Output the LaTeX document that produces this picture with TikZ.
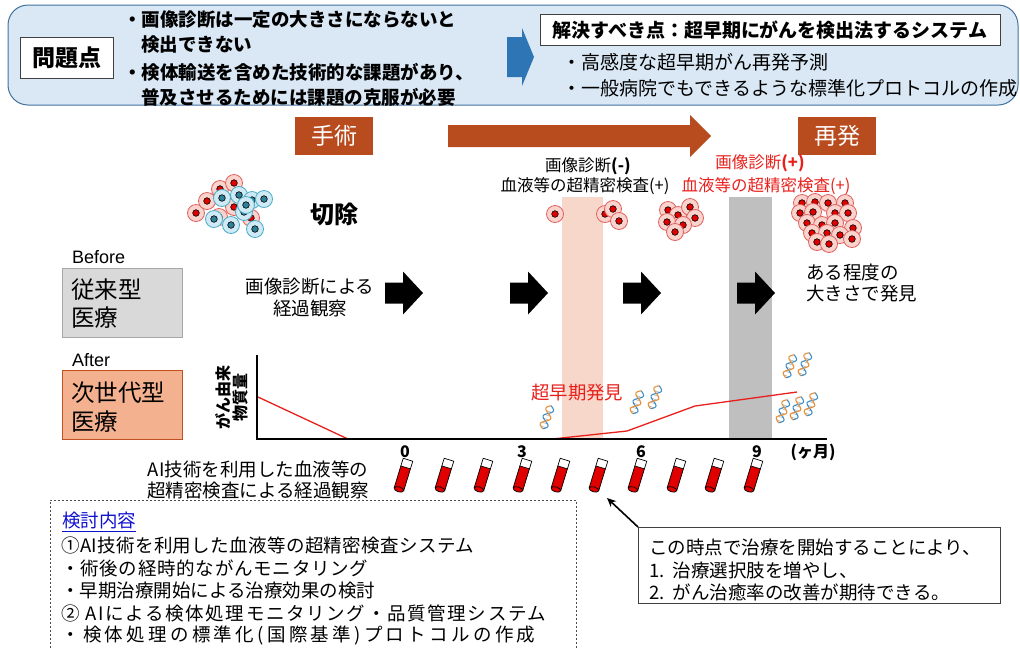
\documentclass[tikz,border=0pt]{standalone}
\usepackage{fontspec}
\setmainfont{Noto Sans CJK JP}
\newfontfamily\latinsans{Liberation Sans}
\usetikzlibrary{arrows.meta}
\newcommand\fs[1]{\fontsize{#1}{#1}\selectfont}

\definecolor{topfill}{HTML}{DAE8F5}
\definecolor{topline}{HTML}{41719C}
\definecolor{arrowblue}{HTML}{2E75B6}
\definecolor{rust}{HTML}{B84C1F}
\definecolor{bandpink}{HTML}{F8D7CB}
\definecolor{bandgray}{HTML}{BFBFBF}
\definecolor{boxgray}{HTML}{D9D9D9}
\definecolor{boxgrayline}{HTML}{A6A6A6}
\definecolor{boxsalmon}{HTML}{F4B18F}
\definecolor{boxsalmonline}{HTML}{C0501F}
\definecolor{alertred}{HTML}{E8201C}
\definecolor{cellfill}{HTML}{FAD3CC}
\definecolor{cellline}{HTML}{E06060}
\definecolor{nucred}{HTML}{E00000}
\definecolor{bcellfill}{HTML}{CFEAF4}
\definecolor{bcellline}{HTML}{4BACC6}
\definecolor{bnuc}{HTML}{2E7F98}
\definecolor{linkblue}{HTML}{1010D0}
\definecolor{dnablue}{HTML}{3E8FC8}
\definecolor{dnaorange}{HTML}{E8903A}

\tikzset{
  txt/.style={inner sep=0pt, font=\fs{18.5}},
  txtb/.style={inner sep=0pt, font=\fs{18.5}\bfseries},
  tag/.style={fill=rust, text=white, inner sep=0pt, minimum width=78pt, minimum height=38pt, font=\fs{23}},
  whitebox/.style={draw=black!75, fill=white, line width=0.8pt, inner sep=0pt},
  redcell/.pic={
    \draw[fill=cellfill, draw=cellline, line width=0.8pt] (0,0) circle (8.5);
    \draw[fill=nucred, draw=black, line width=0.6pt] (0,0) circle (3.3);
  },
  bluecell/.pic={
    \draw[fill=bcellfill, draw=bcellline, line width=0.8pt] (0,0) circle (8.5);
    \draw[fill=bnuc, draw=black, line width=0.6pt] (0,0) circle (3.3);
  },
  blkarrow/.pic={
    \fill[black] (0,-10.5) -- (18,-10.5) -- (18,-21.5) -- (38,0) -- (18,21.5) -- (18,10.5) -- (0,10.5) -- cycle;
  },
  tube/.pic={
    \fill[nucred] (-5,-9) rectangle (5,14);
    \draw[fill=nucred, line width=0.7pt] (0,14) ellipse (5 and 2.5);
    \draw[line width=0.7pt] (-5,-9) -- (-5,14) (5,-9) -- (5,14);
    \draw[fill=white, line width=0.7pt] (-5,-17) rectangle (5,-9);
  },
  dna/.pic={
    \draw[gray!60, line width=0.6pt] \foreach \k in {1,...,5} {({-3.6*sin(\k*90+45)},{-12+(\k*90+45)/22}) -- ({3.6*sin(\k*90+45)},{-12+(\k*90+45)/22})};
    \draw[dnablue, line width=1.1pt] plot[domain=0:540, samples=40, smooth] ({4*sin(\x)}, {-12+\x/22});
    \draw[dnaorange, line width=1.1pt] plot[domain=0:540, samples=40, smooth] ({-4*sin(\x)}, {-12+\x/22});
  },
}

\begin{document}
\begin{tikzpicture}[x=1pt, y=-1pt]
\useasboundingbox (0,0) rectangle (1020,649);

% ---------- problem / solution banner ----------
\draw[rounded corners=20pt, fill=topfill, draw=topline, line width=1pt] (8,5) rectangle (1018,105);
\node[whitebox, minimum width=93pt, minimum height=41pt, font=\fs{23}\bfseries] (prob) at (66.5,57.5) {問題点};
\node[txtb, anchor=west] (p1) at (123,20) {・画像診断は一定の大きさにならないと};
\node[txtb, anchor=west] (p2) at (141,45) {検出できない};
\node[txtb, anchor=west] (p3) at (123,72) {・検体輸送を含めた技術的な課題があり、};
\node[txtb, anchor=west] (p4) at (141,97) {普及させるためには課題の克服が必要};
\fill[arrowblue] (507,37) -- (522,37) -- (522,28) -- (534,57) -- (522,86) -- (522,77) -- (507,77) -- cycle;
\node[whitebox, minimum width=460pt, minimum height=31pt, font=\fs{19}\bfseries] (goal) at (770,30) {解決すべき点：超早期にがんを検出法するシステム};
\node[inner sep=0pt, font=\fs{19}, anchor=west] (s1) at (562,62) {・高感度な超早期がん再発予測};
\node[inner sep=0pt, font=\fs{19}, anchor=west] (s2) at (562,88) {・一般病院でもできるような標準化プロトコルの作成};

% ---------- timeline header ----------
\node[tag] (surgery) at (334,136) {手術};
\node[tag] (relapse) at (837,136) {再発};
\fill[rust] (448,125) -- (690,125) -- (690,115) -- (711,136) -- (690,157) -- (690,147) -- (448,147) -- cycle;

% ---------- detection bands ----------
\fill[bandpink] (562,197) rectangle (603,440);
\fill[bandgray] (729,197) rectangle (772,438);

\node[inner sep=0pt, font=\fs{16.5}] (imgneg) at (588,166) {画像診断\textbf{(-)}};
\node[inner sep=0pt, font=\fs{16.5}] (bloodpos) at (585,186) {血液等の超精密検査(+)};
\node[inner sep=0pt, font=\fs{16.5}, text=alertred] (imgpos) at (760,163) {画像診断\textbf{(+)}};
\node[inner sep=0pt, font=\fs{16.5}, text=alertred] (bloodpos2) at (766,186) {血液等の超精密検査(+)};

% ---------- tumour cells ----------
\foreach \p in {(196,213),(207,201),(220,189),(234,183),(234,207),(251,218),(219,217)}
  \pic at \p {redcell};
\foreach \p in {(222,198),(239,195),(252,200),(264,199),(214,219),(231,225),(244,212),(255,229),(246,205)}
  \pic at \p {bluecell};
\node[inner sep=0pt, font=\fs{24}\bfseries] (resect) at (334,214) {切除};

\pic at (555,214) {redcell};
\foreach \p in {(605,214),(613,209),(619,221)} \pic at \p {redcell};
\foreach \p in {(668,210),(678,215),(690,207),(667,222),(695,218),(683,225),(675,232)} \pic at \p {redcell};
\foreach \p in {(802,203),(815,202),(828,203),(845,203),(800,213),(813,212),(835,213),(848,213),
                (807,223),(822,225),(835,223),(853,228),(812,233),(827,233),(840,235),(852,239),
                (817,242),(829,244)}
  \pic at \p {redcell};

% ---------- conventional care ----------
\node[inner sep=0pt, anchor=west, font=\latinsans\fs{18}] (before) at (72,257) {Before};
\draw[fill=boxgray, draw=boxgrayline, line width=1pt] (62,268) rectangle (182,337);
\node[inner sep=0pt, anchor=west, font=\fs{23.5}] (conv1) at (71,290) {従来型};
\node[inner sep=0pt, anchor=west, font=\fs{23.5}] (conv2) at (71,318) {医療};

\node[txt] (imgobs1) at (310,287) {画像診断による};
\node[txt] (imgobs2) at (310,308) {経過観察};
\foreach \xx in {385,510,623,737} \pic at (\xx,293) {blkarrow};
\node[txt, anchor=west] (found1) at (806,272) {ある程度の};
\node[txt, anchor=west] (found2) at (806,294) {大きさで発見};

% ---------- next-generation care ----------
\node[inner sep=0pt, anchor=west, font=\latinsans\fs{18}] (after) at (72,360) {After};
\draw[fill=boxsalmon, draw=boxsalmonline, line width=1pt] (62,370) rectangle (182,439);
\node[inner sep=0pt, anchor=west, font=\fs{23.5}] (next1) at (71,393) {次世代型};
\node[inner sep=0pt, anchor=west, font=\fs{23.5}] (next2) at (71,422) {医療};

% graph of tumour-derived material
\coordinate (ytop) at (257,355);
\coordinate (orig) at (257,439);
\coordinate (xend) at (827,439);
\coordinate (r1) at (258,397);
\coordinate (r2) at (348,439);
\coordinate (r3) at (552,439);
\coordinate (r4) at (627,431);
\coordinate (r5) at (695,406);
\coordinate (r6) at (797,392);
\draw[alertred, line width=1.3pt] (r1) -- (r2);
\draw[alertred, line width=1.3pt] (r3) -- (r4) -- (r5) -- (r6);
\draw[line width=1.3pt] (ytop) -- (orig) -- (xend);
\node[inner sep=0pt, rotate=90, align=center, font=\fontsize{16}{16.5}\selectfont\bfseries] (ylab) at (232,397) {がん由来\\物質量};
\node[inner sep=0pt, anchor=west, text=alertred, font=\fs{18.4}] (early) at (531,393) {超早期発見};

\pic[rotate=-20] at (547,417) {dna};
\pic[rotate=-20] at (637,402) {dna};
\pic[rotate=-20] at (655,397) {dna};
\pic[rotate=-20] at (790,366) {dna};
\pic[rotate=-20] at (805,364) {dna};
\pic[rotate=-20] at (783,411) {dna};
\pic[rotate=-20] at (797,408) {dna};
\pic[rotate=-20] at (811,404) {dna};

\node[inner sep=0pt, font=\fs{16}\bfseries] (m0) at (405,452) {0};
\node[inner sep=0pt, font=\fs{16}\bfseries] (m3) at (522,452) {3};
\node[inner sep=0pt, font=\fs{16}\bfseries] (m6) at (641,452) {6};
\node[inner sep=0pt, font=\fs{16}\bfseries] (m9) at (757,452) {9};
\node[inner sep=0pt, font=\fs{16}\bfseries] (unit) at (813,452) {(ヶ月)};

% blood sampling tubes
\foreach \xx in {403,444,483,522,560,598,637,676,714,753}
  \pic[rotate=-17] at (\xx,476) {tube};
\coordinate (tubetip) at (607,498);

\node[txt] (ai1) at (258,469) {AI技術を利用した血液等の};
\node[txt] (ai2) at (258,491) {超精密検査による経過観察};

% ---------- study items ----------
\draw[dash pattern=on 2pt off 2pt, draw=black!70, line width=0.8pt] (50,660) -- (50,500) -- (576,500) -- (576,660);
\node[txt, anchor=west, text=linkblue] (study) at (62,522) {\underline{検討内容}};
\node[txt, anchor=west] (st1) at (61,545) {\addfontfeature{LetterSpace=2}①AI技術を利用した血液等の超精密検査システム};
\node[txt, anchor=west] (st2) at (61,568) {\addfontfeature{LetterSpace=4}・術後の経時的ながんモニタリング};
\node[txt, anchor=west] (st3) at (61,590) {・早期治療開始による治療効果の検討};
\node[txt, anchor=west] (st4) at (61,613) {\addfontfeature{LetterSpace=9}② AIによる検体処理モニタリング・品質管理システム};
\node[txt, anchor=west] (st5) at (61,635) {\addfontfeature{LetterSpace=18}・検体処理の標準化(国際基準)プロトコルの作成};

% ---------- callout ----------
\node[whitebox, anchor=north west, minimum width=362pt, minimum height=76pt] (call) at (638,527) {};
\node[txt, anchor=west] (c1) at (649,547) {この時点で治療を開始することにより、};
\node[txt, anchor=west] (c2) at (649,570) {1.\ \ 治療選択肢を増やし、};
\node[txt, anchor=west] (c3) at (649,592) {2.\ \ がん治癒率の改善が期待できる。};
\draw[-{Stealth[length=9pt,width=8pt]}, line width=1.6pt] (call.north west) -- (tubetip);

\end{tikzpicture}
\end{document}
